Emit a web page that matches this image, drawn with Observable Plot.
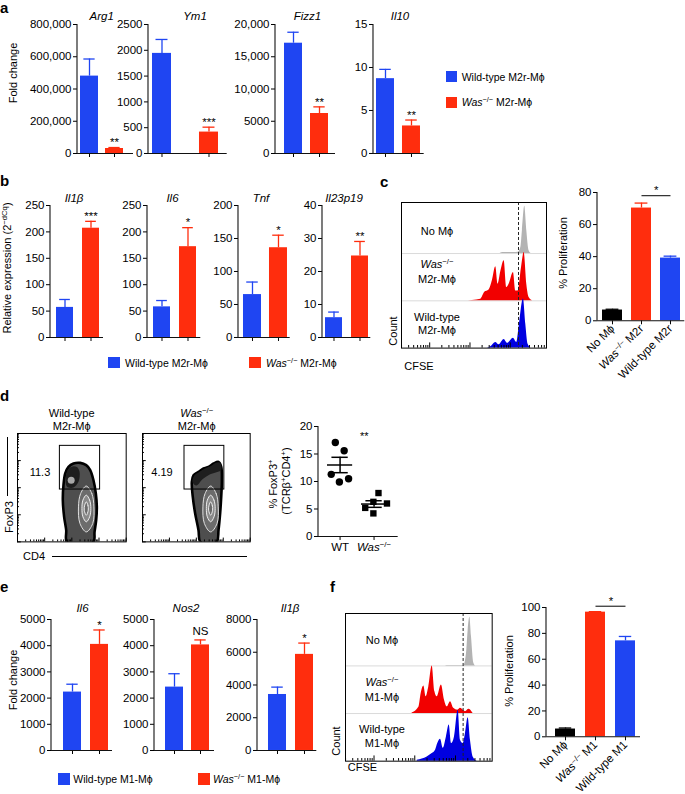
<!DOCTYPE html>
<html><head><meta charset="utf-8">
<script src="https://cdn.jsdelivr.net/npm/d3@7"></script>
<script src="https://cdn.jsdelivr.net/npm/@observablehq/plot@0.6"></script>
<style>
body{margin:0;background:#fff;}
#fig{position:relative;width:685px;height:794px;overflow:hidden;font-family:"Liberation Sans",Arial,Helvetica,sans-serif;color:#000;background:#fff;}
#fig div.t{position:absolute;white-space:nowrap;line-height:1;}
sup{font-size:0.7em;line-height:0;vertical-align:0.5em;}
.sw{position:absolute;}
.ln{position:absolute;background:#000;}
</style></head><body><div id="fig"></div>
<script>
// ================= DATA =================
const BLUE = "#1f45f2", RED = "#ff2d0d", BLACK = "#000000";
const HGREY = "#b3b3b3", HRED = "#f20000", HBLUE = "#0000e0";

const m2rGroups = ["Wild-type M2r-Mϕ", "Was−/− M2r-Mϕ"];
const m1Groups = ["Wild-type M1-Mϕ", "Was−/− M1-Mϕ"];

// panel a (fold change, M2r)
const aGenes = ["Arg1", "Ym1", "Fizz1", "Il10"];
const aWT = [480000, 1940, 17100, 8.7];
const aWTerr = [106000, 270, 1700, 1.08];
const aKO = [31000, 415, 6200, 3.2];
const aKOerr = [6000, 95, 1030, 0.69];
const aSig = ["**", "***", "**", "**"];
const aYmax = [800000, 2500, 20000, 15];
const aTicks = [[0, 200000, 400000, 600000, 800000], [0, 500, 1000, 1500, 2000, 2500], [0, 5000, 10000, 15000, 20000], [0, 5, 10, 15]];

// panel b (relative expression)
const bGenes = ["Il1β", "Il6", "Tnf", "Il23p19"];
const bWT = [57, 58, 65, 6.0];
const bWTerr = [15, 12, 19, 1.7];
const bKO = [207, 172, 136, 24.7];
const bKOerr = [13, 36, 19, 4.4];
const bSig = ["***", "*", "*", "**"];
const bYmax = [250, 250, 200, 40];
const bTicks = [[0, 50, 100, 150, 200, 250], [0, 50, 100, 150, 200, 250], [0, 50, 100, 150, 200], [0, 10, 20, 30, 40]];

// panel e (fold change, M1)
const eGenes = ["Il6", "Nos2", "Il1β"];
const eWT = [2230, 2420, 3420];
const eWTerr = [300, 510, 450];
const eKO = [4050, 4030, 5870];
const eKOerr = [550, 190, 690];
const eSig = ["*", "NS", "*"];
const eYmax = [5000, 5000, 8000];
const eTicks = [[0, 1000, 2000, 3000, 4000, 5000], [0, 1000, 2000, 3000, 4000, 5000], [0, 2000, 4000, 6000, 8000]];

// panels c, f (% proliferation)
const cCats = ["No Mϕ", "Was−/− M2r", "Wild-type M2r"];
const cProlif = [6.7, 70.3, 39.1];
const cProlifErr = [0.5, 3.1, 1.2];
const cSigLevel = 78;
const fCats = ["No Mϕ", "Was−/− M1", "Wild-type M1"];
const fProlif = [6.0, 96.4, 74.2];
const fProlifErr = [0.8, 0.4, 3.4];
const fSigLevel = 101;

// CFSE histograms (x: % of CFSE axis width, h: height in lane units)
const cNoX = [68.0, 70.0, 77.5, 80.5, 82.3, 83.4, 85.0, 86.4, 88.0, 89.5];
const cNoH = [0, 0.02, 0.02, 0.03, 0.13, 0.49, 1.0, 0.49, 0.06, 0];
const cKoX = [43.2, 54.7, 57.4, 60.4, 62.7, 65.0, 66.6, 68.5, 70.8, 72.6, 74.2, 77.2, 78.8, 80.4, 82.8, 84.6, 86.4, 88.0, 90.3];
const cKoH = [0, 0.035, 0.18, 0.23, 0.43, 0.72, 0.35, 0.62, 0.85, 0.28, 0.35, 0.60, 0.21, 0.21, 0.71, 1.02, 0.35, 0.07, 0];
const cWtX = [58.1, 61.6, 65.0, 67.3, 70.8, 73.1, 77.2, 79.5, 81.1, 84.1, 85.7, 87.3, 89.2];
const cWtH = [0, 0.03, 0.12, 0.07, 0.18, 0.1, 0.21, 0.12, 0.44, 1.04, 0.51, 0.08, 0];
const cGate = [80.7];

const fNoX = [68.0, 69.3, 80.7, 82.5, 83.6, 84.8, 85.9, 87.5, 88.6];
const fNoH = [0, 0.01, 0.01, 0.26, 0.74, 1.02, 0.61, 0.055, 0];
const fKoX = [45.4, 50.0, 51.6, 53.4, 55.0, 56.8, 59.1, 60.9, 62.5, 65.4, 67.5, 69.3, 71.6, 73.8, 76.6, 78.4, 81.8, 84.1, 87.0];
const fKoH = [0.01, 0.13, 0.42, 0.58, 0.35, 0.56, 1.0, 0.46, 0.35, 0.6, 0.28, 0.14, 0.25, 0.11, 0.07, 0.11, 0.04, 0.09, 0];
const fWtX = [48.9, 55.7, 59.1, 61.4, 62.9, 64.8, 66.6, 68.8, 70.7, 72.3, 74.3, 76.8, 78.4, 80.2, 81.8, 83.6, 85.2, 87.0, 89.8];
const fWtH = [0.02, 0.09, 0.16, 0.23, 0.37, 0.46, 0.27, 0.51, 0.76, 0.37, 0.51, 1.07, 0.44, 0.37, 0.58, 0.91, 0.44, 0.09, 0];
const fGate = [80.2];

// panel d flow contours (x: CD4 % of axis, y: FoxP3 % of axis)
const wtOuterX = [45.4, 44.8, 42.9, 41.7, 42.3, 43.9, 46.9, 51.5, 57.7, 63.2, 66.9, 69.9, 72.1, 73.0, 72.4, 70.9, 69.9, 57.7];
const wtOuterY = [0, 10.8, 23.1, 38.5, 52.3, 63.1, 69.2, 72.3, 72.9, 70.8, 66.2, 56.9, 44.6, 32.3, 20.0, 9.2, 0, -3];
const wtHeadX = [44.8, 45.4, 49.1, 54.6, 57.1, 56.1, 51.5, 46.9];
const wtHeadY = [52.3, 64.6, 69.2, 69.2, 64.6, 55.4, 50.2, 50.2];
const wtSpot = [{x: 49.4, y: 56.9}];
const koOuterX = [53.6, 52.0, 48.9, 46.7, 45.8, 47.4, 52.0, 56.7, 61.3, 66.0, 70.6, 73.1, 73.7, 73.1, 72.1, 70.6, 69.0, 61.0];
const koOuterY = [0, 10.8, 26.2, 41.5, 55.4, 61.5, 64.6, 67.7, 69.2, 72.3, 73.8, 69.2, 56.9, 41.5, 26.2, 10.8, 0, -3];
const koHeadX = [46.5, 48.0, 53.0, 58.0, 63.0, 68.0, 72.0, 73.0, 68.0, 62.0, 56.0, 50.0];
const koHeadY = [55.0, 61.0, 64.6, 67.7, 69.7, 73.0, 73.0, 66.0, 64.0, 62.0, 58.0, 52.0];
const ringAX = [63.3, 68.4, 70.3, 69.2, 63.3, 57.5, 56.1, 58.1];
const ringAY = [51.5, 44.6, 32.3, 16.9, 9.2, 16.9, 32.3, 44.6];
const ringBX = [63.3, 66.4, 67.5, 66.4, 63.3, 60.2, 59.3, 60.2];
const ringBY = [43.1, 38.5, 30.8, 23.1, 18.5, 23.1, 30.8, 38.5];
const ringCX = [63.3, 64.8, 65.1, 63.3, 61.4, 61.8];
const ringCY = [36.9, 33.8, 29.2, 24.6, 29.2, 33.8];
const flowGate = [{x1: 39, x2: 76, y1: 48.3, y2: 88.6}];
const flowPct = ["11.3", "4.19"];

// panel d scatter (% FoxP3+)
const dGroups = ["WT", "Was−/−"];
const dWtVals = [17.1, 15.6, 11.3, 9.9, 10.5];
const dWtSpread = [-0.14, 0.12, -0.26, -0.02, 0.25];
const dKoVals = [7.9, 6.3, 6.0, 5.2, 4.2];
const dKoSpread = [0.13, -0.02, 0.38, -0.26, -0.02];
const dMean = [13.0, 5.9];
const dSem = [1.4, 0.6];

// ================= LAYOUT =================
const LAY = {
  a: [{ax: 77, ex: 133, cs: [89.3, 115.3], bw: 18.7}, {ax: 148.3, ex: 227, cs: [161.7, 209.2], bw: 19.5},
      {ax: 275, ex: 335, cs: [292.5, 319.2], bw: 18.5}, {ax: 373.3, ex: 424, cs: [385, 411.7], bw: 18}],
  aY: [24, 153],
  b: [{ax: 50, ex: 103, cs: [63.8, 90.3], bw: 17.5}, {ax: 146.7, ex: 200, cs: [160.7, 187], bw: 17.5},
      {ax: 238.3, ex: 290, cs: [252, 278], bw: 18}, {ax: 321.7, ex: 370, cs: [333, 359.5], bw: 17.5}],
  bY: [205, 337],
  e: [{ax: 51, ex: 112, cs: [71.6, 98.8], bw: 18.4}, {ax: 154, ex: 214, cs: [173.3, 200.3], bw: 18.4},
      {ax: 256.7, ex: 316, cs: [276.7, 304], bw: 18}],
  eY: [619, 750],
  c: {ax: 596.7, ex: 684, cs: [610.7, 640.3, 670], bw: 20}, cY: [191.7, 320],
  f: {ax: 546, ex: 640, cs: [563.8, 594.5, 625.5], bw: 21}, fY: [606.7, 736],
};

// ================= HELPERS =================
const fig = document.getElementById("fig");
const FONT = '"Liberation Sans", Arial, Helvetica, sans-serif';
const baseStyle = {fontFamily: FONT, fontSize: "11.5px", color: "#000", background: "transparent", overflow: "visible"};
const fmt = d => d >= 10000 ? d3.format(",")(d) : String(d);
const NS = "http://www.w3.org/2000/svg";

function fixWas(svg) {
  svg.querySelectorAll("text").forEach(t => {
    const target = t.querySelector("tspan") || t;
    const s = target.textContent;
    const i = s.indexOf("−/−");
    if (i < 0) return;
    const pre = s.slice(0, i), post = s.slice(i + 3);
    target.textContent = "";
    const a = document.createElementNS(NS, "tspan"); a.setAttribute("font-style", "italic"); a.textContent = pre;
    const b = document.createElementNS(NS, "tspan"); b.setAttribute("font-size", "8"); b.setAttribute("dy", "-3.5"); b.textContent = "−/−";
    const c = document.createElementNS(NS, "tspan"); c.setAttribute("dy", "3.5"); c.textContent = post;
    target.append(a, b, c);
  });
}
function place(svg, left, top) {
  svg.style.position = "absolute"; svg.style.left = left + "px"; svg.style.top = top + "px";
  fig.appendChild(svg); fixWas(svg);
}
function T(html, x, y, o = {}) {
  const d = document.createElement("div");
  d.className = "t"; d.innerHTML = html;
  const size = o.size || 11;
  d.style.left = x + "px"; d.style.top = y + "px"; d.style.fontSize = size + "px";
  if (o.italic) d.style.fontStyle = "italic";
  if (o.bold) d.style.fontWeight = "bold";
  const tx = o.anchor === "start" ? "0" : o.anchor === "end" ? "-100%" : "-50%";
  d.style.transform = `translate(${tx},-50%)` + (o.rot ? " rotate(-90deg)" : "");
  fig.appendChild(d);
}
function box(cls, x, y, w, h, color) {
  const d = document.createElement("div"); d.className = cls;
  Object.assign(d.style, {left: x + "px", top: y + "px", width: w + "px", height: h + "px", background: color});
  fig.appendChild(d);
}
const yAxisLine = (index, scales, values, dims) => {
  const l = document.createElementNS(NS, "line");
  l.setAttribute("x1", dims.marginLeft); l.setAttribute("x2", dims.marginLeft);
  l.setAttribute("y1", dims.marginTop); l.setAttribute("y2", dims.height - dims.marginBottom);
  l.setAttribute("stroke", "#111"); l.setAttribute("stroke-width", "1.1");
  return l;
};
const rows = (xs, ys) => xs.map((x, i) => ({x, y: ys[i]}));
function logTickRows(lo, hi) {
  const s = d3.scaleLog().domain([10 ** lo, 10 ** hi]).range([0, 100]);
  return s.ticks().map(t => ({p: s(t), major: Math.abs(Math.log10(t) - Math.round(Math.log10(t))) < 1e-6}));
}

function barPlot(cats, vals, errs, sigs, colors, ymax, ticks, lay, yt, y0, opts = {}) {
  const data = cats.map((c, i) => ({c, v: vals[i], e: errs[i], s: sigs[i]}));
  const n = cats.length;
  const step = (lay.cs[n - 1] - lay.cs[0]) / (n - 1);
  const oL = lay.cs[0] - lay.bw / 2 - lay.ax;
  const oR = lay.ex - (lay.cs[n - 1] + lay.bw / 2);
  const mL = 52, mR = 4, mT = 12, mB = opts.mB || 10;
  const W = lay.ex - lay.ax, H = y0 - yt;
  const marks = [
    Plot.ruleX(data, {x: "c", y1: "v", y2: d => d.v + d.e, stroke: "c", strokeWidth: 1.3}),
    Plot.tickY(data, {x: "c", y: d => d.v + d.e, stroke: "c", strokeWidth: 1.3, insetLeft: lay.bw * 0.18, insetRight: lay.bw * 0.18}),
    Plot.barY(data, {x: "c", y: "v", fill: "c"}),
    Plot.text(data.filter(d => d.s === "NS"), {x: "c", y: d => d.v + d.e, text: "s", dy: -9, fontSize: 11.5}),
    Plot.text(data.filter(d => d.s && d.s !== "NS"), {x: "c", y: d => d.v + d.e, text: "s", dy: -5, fontSize: 11.5}),
    Plot.ruleY([0], {stroke: "#111", strokeWidth: 1.1}),
    yAxisLine
  ];
  if (opts.sig) {
    const sd = [{a: cats[1], b: cats[2], y: opts.sig}];
    marks.push(Plot.link(sd, {x1: "a", x2: "b", y1: "y", y2: "y", stroke: "#000", strokeWidth: 1}));
    marks.push(Plot.text(sd, {x: "a", y: "y", text: d => "*", dx: step / 2, dy: -5, fontSize: 11.5}));
  }
  const svg = Plot.plot({
    width: mL + W + mR, height: mT + H + mB,
    marginLeft: mL, marginRight: mR, marginTop: mT, marginBottom: mB,
    style: baseStyle,
    x: {type: "band", domain: cats, paddingInner: 1 - lay.bw / step, paddingOuter: (oL + oR) / (2 * step),
        align: oL / (oL + oR), label: null, tickSize: 4, tickPadding: 2,
        tickFormat: opts.labels ? (d => d) : (() => ""), tickRotate: opts.labels ? -45 : 0},
    y: {domain: [0, ymax], ticks, tickFormat: fmt, tickSize: 4, tickPadding: 2, label: null},
    color: {domain: cats, range: colors},
    marks
  });
  place(svg, lay.ax - mL, yt - mT);
}

function histPlot(lanes, gate, lay, ymax) {
  const data = lanes.flatMap(l => l.xs.map((x, i) => ({x, h: l.hs[i], lane: l.lane, k: l.k})));
  const tk = logTickRows(1.3, 4.9);
  const svg = Plot.plot({
    width: lay.w, height: lay.h, margin: 0,
    x: {domain: [0, 100], axis: null}, y: {domain: [0, ymax], axis: null},
    color: {domain: ["none", "ko", "wt"], range: [HGREY, HRED, HBLUE]},
    style: baseStyle,
    marks: [
      Plot.ruleY([1, 2], {stroke: "#dadada"}),
      Plot.areaY(data, {x: "x", y1: d => d.lane, y2: d => d.lane + d.h, z: "k", fill: "k", curve: "monotone-x"}),
      Plot.ruleX(gate, {stroke: "#222", strokeDasharray: "3,2", strokeWidth: 1}),
      Plot.ruleX(tk, {x: "p", y1: 0, y2: d => d.major ? 0.11 : 0.055, stroke: "#000"}),
      Plot.frame({stroke: "#000"})
    ]
  });
  place(svg, lay.left, lay.top);
}

function flowPlot(outer, head, spot, lay) {
  const tk = logTickRows(1, 5);
  const marks = [
    Plot.line(outer, {x: "x", y: "y", curve: "catmull-rom-closed", fill: "#4e4e4e", stroke: "#000", strokeWidth: 2.6, clip: true}),
    Plot.line(head, {x: "x", y: "y", curve: "catmull-rom-closed", fill: "#1e1e1e", clip: true}),
    Plot.line(rows(ringAX, ringAY), {x: "x", y: "y", curve: "catmull-rom-closed", fill: "#6c6c6c", stroke: "#e0e0e0", strokeWidth: 1}),
    Plot.line(rows(ringBX, ringBY), {x: "x", y: "y", curve: "catmull-rom-closed", fill: "#8a8a8a", stroke: "#eeeeee", strokeWidth: 1}),
    Plot.line(rows(ringCX, ringCY), {x: "x", y: "y", curve: "catmull-rom-closed", fill: "#6a6a6a", stroke: "#eeeeee", strokeWidth: 1}),
    Plot.rect(flowGate, {x1: "x1", x2: "x2", y1: "y1", y2: "y2", fill: "none", stroke: "#000", strokeWidth: 1}),
    Plot.ruleX(tk, {x: "p", y1: 0, y2: d => d.major ? 3.5 : 1.8, stroke: "#000"}),
    Plot.ruleY(tk, {y: "p", x1: 0, x2: d => d.major ? 3.5 : 1.8, stroke: "#000"}),
    Plot.frame({stroke: "#000"})
  ];
  if (spot) marks.push(Plot.dot(spot, {x: "x", y: "y", r: 3.5, fill: "#a8a8a8"}));
  const svg = Plot.plot({
    width: lay.w, height: lay.h, margin: 0,
    x: {domain: [0, 100], axis: null}, y: {domain: [0, 100], axis: null},
    style: baseStyle, marks
  });
  place(svg, lay.left, lay.top);
}

function scatterPlot() {
  const wt = dWtVals.map((v, i) => ({g: 0, x: 0 + dWtSpread[i], v}));
  const ko = dKoVals.map((v, i) => ({g: 1, x: 1 + dKoSpread[i], v}));
  const sum = dMean.map((m, g) => ({g, m, s: dSem[g]}));
  const mL = 40, mR = 4, mT = 10, mB = 22, ax = 318.3, ex = 398, yt = 426, y0 = 536;
  const svg = Plot.plot({
    width: mL + (ex - ax) + mR, height: mT + (y0 - yt) + mB,
    marginLeft: mL, marginRight: mR, marginTop: mT, marginBottom: mB,
    style: baseStyle,
    x: {domain: [-0.635, 1.71], ticks: [0, 1], tickFormat: i => dGroups[i], tickSize: 4, tickPadding: 2, label: null},
    y: {domain: [0, 20], ticks: [0, 5, 10, 15, 20], tickSize: 4, tickPadding: 2, label: null},
    marks: [
      Plot.ruleY([0], {stroke: "#111", strokeWidth: 1.1}),
      yAxisLine,
      Plot.dot(wt, {x: "x", y: "v", r: 3.7, fill: "#000"}),
      Plot.dot(ko, {x: "x", y: "v", r: 3.6, symbol: "square", fill: "#000"}),
      Plot.ruleY(sum, {y: "m", x1: d => d.g - 0.37, x2: d => d.g + 0.37, stroke: "#000", strokeWidth: 1.5}),
      Plot.ruleY(sum, {y: d => d.m + d.s, x1: d => d.g - 0.24, x2: d => d.g + 0.24, stroke: "#000", strokeWidth: 1.5}),
      Plot.ruleY(sum, {y: d => d.m - d.s, x1: d => d.g - 0.24, x2: d => d.g + 0.24, stroke: "#000", strokeWidth: 1.5}),
      Plot.ruleX(sum, {x: "g", y1: d => d.m - d.s, y2: d => d.m + d.s, stroke: "#000", strokeWidth: 1.5})
    ]
  });
  place(svg, ax - mL, yt - mT);
}

// ================= DRAW =================
const WAS = "<i>Was</i><sup>−/−</sup>";
// panel letters
T("a", 0, 7, {size: 15, bold: true, anchor: "start"});
T("b", 0, 180, {size: 15, bold: true, anchor: "start"});
T("c", 380, 181, {size: 15, bold: true, anchor: "start"});
T("d", 0, 395, {size: 15, bold: true, anchor: "start"});
T("e", 0, 585.5, {size: 15, bold: true, anchor: "start"});
T("f", 330, 585.5, {size: 15, bold: true, anchor: "start"});

// a
aGenes.forEach((g, i) => barPlot(m2rGroups, [aWT[i], aKO[i]], [aWTerr[i], aKOerr[i]], ["", aSig[i]], [BLUE, RED], aYmax[i], aTicks[i], LAY.a[i], LAY.aY[0], LAY.aY[1]));
[[101.7, 17], [195, 17], [307.5, 17], [400, 17]].forEach((p, i) => T(aGenes[i], p[0], p[1], {italic: true, size: 11.5}));
T("Fold change", 12.5, 73, {rot: true, size: 11});
box("sw", 446, 71, 11, 11, BLUE); T(m2rGroups[0], 461.7, 77, {anchor: "start", size: 10.5});
box("sw", 446, 96.7, 11, 11, RED); T(WAS + " M2r-Mϕ", 461.7, 102, {anchor: "start", size: 10.5});

// b
bGenes.forEach((g, i) => barPlot(m2rGroups, [bWT[i], bKO[i]], [bWTerr[i], bKOerr[i]], ["", bSig[i]], [BLUE, RED], bYmax[i], bTicks[i], LAY.b[i], LAY.bY[0], LAY.bY[1]));
[[74, 199], [172.5, 199], [261, 199], [344, 199]].forEach((p, i) => T(bGenes[i], p[0], p[1], {italic: true, size: 11.5}));
T("Relative expression (2<sup>−dCq</sup>)", 7, 268, {rot: true});
box("sw", 108.3, 356.7, 11.5, 11.5, BLUE); T(m2rGroups[0], 125, 362.5, {anchor: "start", size: 10.5});
box("sw", 249.3, 356.7, 11.5, 11.5, RED); T(WAS + " M2r-Mϕ", 266, 362.5, {anchor: "start", size: 10.5});

// c
histPlot([{k: "none", lane: 2, xs: cNoX, hs: cNoH}, {k: "ko", lane: 1, xs: cKoX, hs: cKoH}, {k: "wt", lane: 0, xs: cWtX, hs: cWtH}],
  cGate, {left: 400.7, top: 201.7, w: 145, h: 145.6}, 3.08);
T("No Mϕ", 437, 231); T(WAS, 437, 264); T("M2r-Mϕ", 437, 279); T("Wild-type", 437, 317); T("M2r-Mϕ", 437, 330);
T("Count", 393, 331, {rot: true}); T("CFSE", 419, 365.5);
barPlot(cCats, cProlif, cProlifErr, ["", "", ""], [BLACK, RED, BLUE], 80, [0, 20, 40, 60, 80], LAY.c, LAY.cY[0], LAY.cY[1], {labels: true, mB: 80, sig: cSigLevel});
T("% Proliferation", 563, 253, {rot: true});

// d
flowPlot(rows(wtOuterX, wtOuterY), rows(wtHeadX, wtHeadY), wtSpot, {left: 17.3, top: 433.3, w: 108.7, h: 108.4});
flowPlot(rows(koOuterX, koOuterY), rows(koHeadX, koHeadY), null, {left: 142.3, top: 433.3, w: 107.7, h: 108.4});
T("Wild-type", 71.7, 413); T("M2r-Mϕ", 71.7, 425.5);
T(WAS, 196.7, 413); T("M2r-Mϕ", 196.7, 425.5);
T(flowPct[0], 40, 471.5); T(flowPct[1], 162, 471.5);
T("FoxP3", 9, 517, {rot: true}); box("ln", 6.5, 437, 1.2, 59, "#000");
T("CD4", 34, 556); box("ln", 51.7, 555.5, 195, 1.2, "#000");
scatterPlot();
T("% FoxP3<sup>+</sup>", 272.7, 484, {rot: true});
T("(TCRβ<sup>+</sup>CD4<sup>+</sup>)", 286, 481, {rot: true});
T("**", 364.3, 435.5);

// e
eGenes.forEach((g, i) => barPlot(m1Groups, [eWT[i], eKO[i]], [eWTerr[i], eKOerr[i]], ["", eSig[i]], [BLUE, RED], eYmax[i], eTicks[i], LAY.e[i], LAY.eY[0], LAY.eY[1]));
[[82.5, 609], [186, 609], [290, 609]].forEach((p, i) => T(eGenes[i], p[0], p[1], {italic: true, size: 11.5}));
T("Fold change", 12.5, 680, {rot: true});
box("sw", 58.3, 773.3, 11.7, 11.7, BLUE); T(m1Groups[0], 73.3, 779, {anchor: "start", size: 10.5});
box("sw", 198, 773.3, 11.7, 11.7, RED); T(WAS + " M1-Mϕ", 213, 779, {anchor: "start", size: 10.5});

// f
histPlot([{k: "none", lane: 2, xs: fNoX, hs: fNoH}, {k: "ko", lane: 1, xs: fKoX, hs: fKoH}, {k: "wt", lane: 0, xs: fWtX, hs: fWtH}],
  fGate, {left: 345, top: 613.3, w: 146.7, h: 147.7}, 3.1);
T("No Mϕ", 382, 639.5); T(WAS, 382, 682); T("M1-Mϕ", 382, 697); T("Wild-type", 382, 729); T("M1-Mϕ", 382, 743);
T("Count", 336, 741, {rot: true}); T("CFSE", 362.5, 767);
barPlot(fCats, fProlif, fProlifErr, ["", "", ""], [BLACK, RED, BLUE], 100, [0, 20, 40, 60, 80, 100], LAY.f, LAY.fY[0], LAY.fY[1], {labels: true, mB: 80, sig: fSigLevel});
T("% Proliferation", 509, 671, {rot: true});
</script></body></html>
